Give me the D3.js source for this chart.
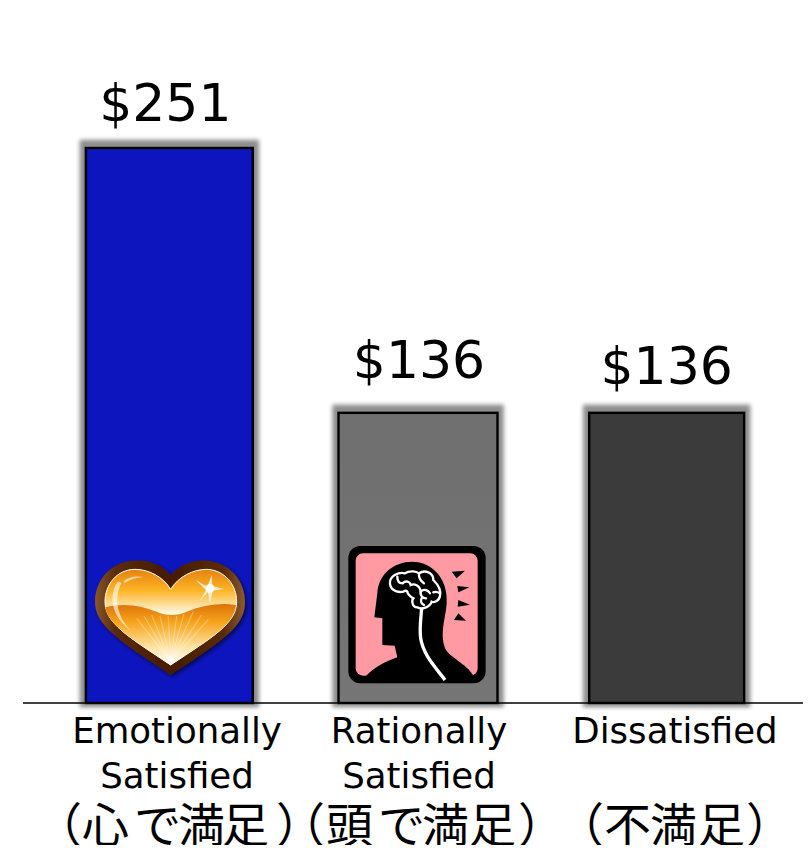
<!DOCTYPE html>
<html>
<head>
<meta charset="utf-8">
<script src="https://cdn.jsdelivr.net/npm/d3@7"></script>
<style>
html, body { margin: 0; padding: 0; background: #fff; }
svg { display: block; }
text { font-family: "DejaVu Sans", "Noto Sans CJK JP", sans-serif; fill: #000; }
.jp { font-family: "Noto Sans CJK JP", sans-serif; }
</style>
</head>
<body>
<svg id="mainSvg" width="808" height="851"></svg>
<script>
// data
var categories = ["Emotionally Satisfied", "Rationally Satisfied", "Dissatisfied"];
var spend = [251, 136, 136];
var valueLabels = ["$251", "$136", "$136"];
var labelLine1 = ["Emotionally", "Rationally", "Dissatisfied"];
var labelLine2 = ["Satisfied", "Satisfied", ""];
var labelJp = ["（心で満足）", "（頭で満足）", "（不満足）"];

// layout, the bars in the picture are not all the same width
var barWidths = [167, 159, 155];
var barColors = ["#0719be", "url(#grayFill)", "#3a3a3a"];
var valueNudge = [{x: -4, y: -27}, {x: 1, y: -35}, {x: 0, y: -29}];
var labelCenter = [177, 419, 675];
var jpStart = [35, 278, 557];
var jpGaps = ["0 0 5 -3 -3 7", "0 1 5 -3 0 2", "0 0 -1 1 1"];

var svg = d3.select("#mainSvg");
var defs = svg.append("defs");

var x = d3.scaleBand()
    .domain(categories)
    .range([45, 791])
    .paddingInner(0.36)
    .paddingOuter(0.18);

var y = d3.scaleLinear()
    .domain([10, 251])
    .range([703, 148]);

function barCenter(i) {
    return x(categories[i]) + x.bandwidth() / 2;
}

// page clip, the last text line is cut off in the picture
defs.append("clipPath").attr("id", "pageClip")
    .append("rect").attr("width", 808).attr("height", 845);

// wide grey halo round each bar
var shadow = defs.append("filter").attr("id", "barShadow")
    .attr("x", "-20%").attr("y", "-20%").attr("width", "140%").attr("height", "140%");
shadow.append("feMorphology")
    .attr("in", "SourceAlpha").attr("operator", "dilate").attr("radius", 4.5).attr("result", "grown");
shadow.append("feGaussianBlur")
    .attr("in", "grown").attr("stdDeviation", 2.2).attr("result", "soft");
shadow.append("feOffset")
    .attr("in", "soft").attr("dx", 0).attr("dy", -2).attr("result", "moved");
shadow.append("feComponentTransfer")
    .attr("in", "moved").attr("result", "faded")
    .append("feFuncA").attr("type", "linear").attr("slope", 0.45);
var shadowMerge = shadow.append("feMerge");
shadowMerge.append("feMergeNode").attr("in", "faded");
shadowMerge.append("feMergeNode").attr("in", "SourceGraphic");

function gradient(id, stops, x2, y2) {
    var g = defs.append("linearGradient").attr("id", id)
        .attr("x1", 0).attr("y1", 0).attr("x2", x2).attr("y2", y2);
    stops.forEach(function(s) {
        g.append("stop").attr("offset", s[0]).attr("stop-color", s[1]);
    });
}
gradient("grayFill", [[0, "#6f6f6f"], [1, "#757575"]], 0, 1);
gradient("heartRim", [[0, "#86572c"], [0.14, "#5a2a08"], [0.5, "#451c00"], [0.86, "#5a2a08"], [1, "#8a5a30"]], 1, 0);
gradient("heartTop", [[0, "#e5820f"], [0.22, "#fcb426"], [0.46, "#fff8e0"], [1, "#fff8e0"]], 0, 1);
gradient("heartLow", [[0, "#dd7409"], [0.3, "#f7a41c"], [0.7, "#fde2a0"], [1, "#ffffff"]], 0, 1);

var heartShadow = defs.append("filter").attr("id", "heartShadow")
    .attr("x", "-20%").attr("y", "-20%").attr("width", "140%").attr("height", "140%");
heartShadow.append("feDropShadow")
    .attr("dx", 6).attr("dy", 6)
    .attr("stdDeviation", 6)
    .attr("flood-color", "#000")
    .attr("flood-opacity", 0.6);

var page = svg.append("g").attr("clip-path", "url(#pageClip)");

// bars
page.selectAll(".bar")
    .data(categories)
    .enter().append("rect")
    .attr("class", "bar")
    .attr("x", function(d, i) { return barCenter(i) - barWidths[i] / 2; })
    .attr("y", function(d, i) { return y(spend[i]); })
    .attr("width", function(d, i) { return barWidths[i]; })
    .attr("height", function(d, i) { return y.range()[0] - y(spend[i]); })
    .attr("fill", function(d, i) { return barColors[i]; })
    .attr("stroke", "#000")
    .attr("stroke-width", 2.4)
    .attr("filter", "url(#barShadow)");

// baseline
page.append("line")
    .attr("x1", 23).attr("x2", 803)
    .attr("y1", y.range()[0]).attr("y2", y.range()[0])
    .attr("stroke", "#000")
    .attr("stroke-width", 1.5);

// value labels
page.selectAll(".value")
    .data(valueLabels)
    .enter().append("text")
    .attr("class", "value")
    .attr("x", function(d, i) { return barCenter(i) + valueNudge[i].x; })
    .attr("y", function(d, i) { return y(spend[i]) + valueNudge[i].y; })
    .attr("text-anchor", "middle")
    .style("font-size", "52px")
    .text(function(d) { return d; });

// category labels
page.selectAll(".line1")
    .data(labelLine1)
    .enter().append("text")
    .attr("class", "line1")
    .attr("x", function(d, i) { return labelCenter[i]; })
    .attr("y", 743)
    .attr("text-anchor", "middle")
    .style("font-size", "35.6px")
    .text(function(d) { return d; });

page.selectAll(".line2")
    .data(labelLine2)
    .enter().append("text")
    .attr("class", "line2")
    .attr("x", function(d, i) { return labelCenter[i]; })
    .attr("y", 788)
    .attr("text-anchor", "middle")
    .style("font-size", "35.6px")
    .text(function(d) { return d; });

page.selectAll(".lineJp")
    .data(labelJp)
    .enter().append("text")
    .attr("class", "lineJp jp")
    .attr("x", function(d, i) { return jpStart[i]; })
    .attr("dx", function(d, i) { return jpGaps[i]; })
    .attr("y", 842)
    .style("font-size", "47px")
    .text(function(d) { return d; });

// heart icon, drawn in the 3x units of the crop and scaled down
var heart = page.append("g")
    .attr("transform", "translate(60,530) scale(0.3333)");

var heartOuter = "M332 135C360 103 400 90 440 92C510 95 555 155 555 215C555 290 490 330 332 435C175 330 105 285 105 215C105 150 155 92 225 92C265 90 305 103 332 135Z";
var heartInner = "M332 178C355 140 400 118 440 118C495 120 530 165 530 215C530 280 460 320 332 405C205 320 135 280 135 215C135 165 170 118 225 118C265 118 310 140 332 178Z";
var heartWave = "M136 232C190 218 240 225 290 245C320 258 350 258 380 245C430 225 480 218 528 225C522 285 455 322 332 405C210 322 145 285 136 232Z";

heart.append("path").attr("d", heartOuter).attr("fill", "url(#heartRim)").attr("filter", "url(#heartShadow)");
heart.append("path").attr("d", heartInner).attr("fill", "url(#heartTop)").attr("stroke", "#fff").attr("stroke-width", 3);
heart.append("path").attr("d", heartWave).attr("fill", "url(#heartLow)");

// rays in the lower half
var rayEnds = [[230, 265], [252, 258], [275, 255], [300, 258], [325, 258], [350, 258], [372, 252], [400, 245], [425, 255], [445, 268]];
heart.selectAll(".ray")
    .data(rayEnds)
    .enter().append("line")
    .attr("class", "ray")
    .attr("x1", 332).attr("y1", 395)
    .attr("x2", function(d) { return d[0]; })
    .attr("y2", function(d) { return d[1]; })
    .attr("stroke", "#fff")
    .attr("stroke-opacity", 0.3)
    .attr("stroke-width", 3.5);

// shine on the left side and sparkle on the right
heart.append("path")
    .attr("d", "M170 160C148 195 150 260 215 303C172 265 160 205 184 160C180 155 174 155 170 160Z")
    .attr("fill", "#fff").attr("fill-opacity", 0.6);
heart.append("path")
    .attr("d", "M190 155C205 140 230 137 250 142C230 143 210 148 195 158Z")
    .attr("fill", "#fff").attr("fill-opacity", 0.6);
heart.append("path")
    .attr("d", "M455 135L457 168L492 177L458 182L450 222L444 186L420 212L438 180L407 150L442 170Z")
    .attr("fill", "#fff").attr("fill-opacity", 0.75);
heart.append("circle").attr("cx", 450).attr("cy", 175).attr("r", 13).attr("fill", "#fff");

// brain icon, same units
var head = page.append("g")
    .attr("transform", "translate(320,530) scale(0.3333)");

head.append("rect").attr("x", 85).attr("y", 48).attr("width", 412).attr("height", 412).attr("rx", 36).attr("fill", "#000");
head.append("rect").attr("x", 107).attr("y", 70).attr("width", 366).attr("height", 367).attr("rx", 22).attr("fill", "#ff9aa2");
head.append("path")
    .attr("d", "M136 440C165 410 200 393 232 382L224 347L187 345L187 265L163 262L172 190C175 130 225 95 275 95C340 95 385 150 380 220C378 260 358 310 375 355C390 385 440 400 462 440Z")
    .attr("fill", "#000");

var ticks = ["M395 125L435 122L410 145Z", "M412 168L448 172L415 187Z", "M415 210L450 224L413 230Z", "M402 270L415 250L438 272Z"];
head.selectAll(".pain")
    .data(ticks)
    .enter().append("path")
    .attr("class", "pain")
    .attr("d", function(d) { return d; })
    .attr("fill", "#000");

var brainLines = [
    "M250 185C225 190 208 175 210 155C212 138 235 125 255 130C270 120 290 125 297 130C315 118 340 128 340 150C355 165 365 180 360 197C358 215 340 218 335 215C330 232 305 240 292 232C275 232 275 210 280 205C270 200 262 190 262 185C258 180 254 182 250 185",
    "M232 140C232 155 240 160 248 160C258 150 270 155 272 165C282 160 300 165 302 185C312 175 325 180 330 190",
    "M297 130C295 145 305 155 312 160",
    "M340 187C345 185 352 185 360 190",
    "M302 185C300 200 310 205 318 205",
    "M305 205C300 215 305 222 312 225"
];
head.selectAll(".brain")
    .data(brainLines)
    .enter().append("path")
    .attr("class", "brain")
    .attr("d", function(d) { return d; })
    .attr("fill", "none")
    .attr("stroke", "#fff")
    .attr("stroke-width", 7)
    .attr("stroke-linecap", "round");

// spine, thicker than the brain lines
head.append("path")
    .attr("d", "M305 235C302 270 298 300 302 325C310 375 345 410 375 450")
    .attr("fill", "none")
    .attr("stroke", "#fff")
    .attr("stroke-width", 10);
</script>
</body>
</html>
